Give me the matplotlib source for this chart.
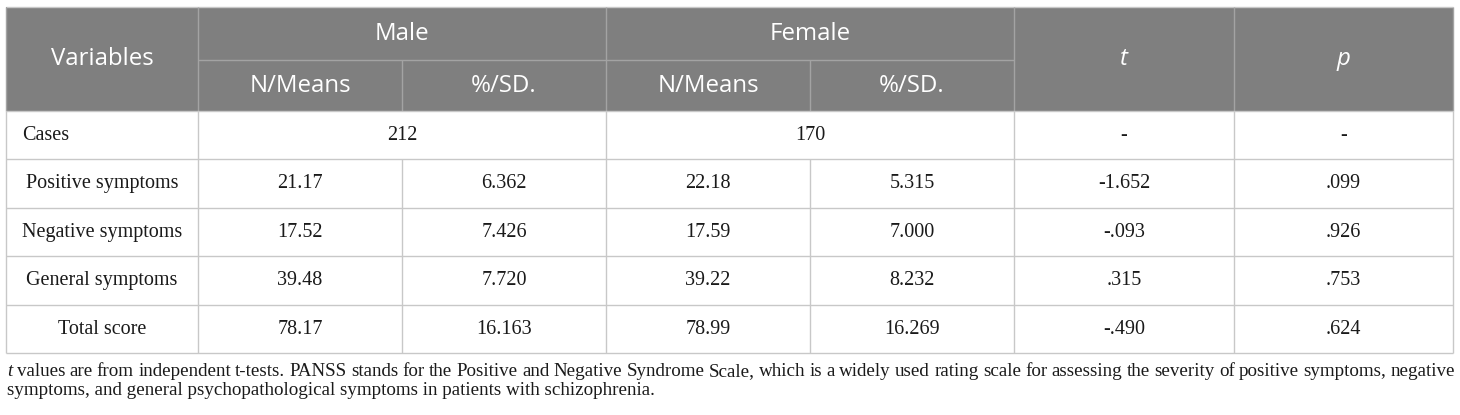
import matplotlib
matplotlib.use("Agg")
import matplotlib.pyplot as plt
from matplotlib.patches import Rectangle

# ---- data ----
variables = ["Cases", "Positive symptoms", "Negative symptoms", "General symptoms", "Total score"]
groups = ["Male", "Female"]
subheaders = ["N/Means", "%/SD."]
cases = ["212", "170"]
male_mean = ["21.17", "17.52", "39.48", "78.17"]
male_sd = ["6.362", "7.426", "7.720", "16.163"]
female_mean = ["22.18", "17.59", "39.22", "78.99"]
female_sd = ["5.315", "7.000", "8.232", "16.269"]
t_vals = ["-", "-1.652", "-.093", ".315", "-.490"]
p_vals = ["-", ".099", ".926", ".753", ".624"]
caption_line1 = ("values are from independent t-tests. PANSS stands for the Positive and Negative "
                 "Syndrome Scale, which is a widely used rating scale for assessing the severity of "
                 "positive symptoms, negative")
caption_line2 = "symptoms, and general psychopathological symptoms in patients with schizophrenia."

# ---- layout ----
W, H = 1460, 415
col = [6, 198, 402, 606, 810, 1014, 1234, 1453]
row = [7.5, 60, 111, 159, 208, 256, 305, 353]
HEAD_BG = "#7f7f7f"
HEAD_LINE = "#a3a3a3"
BODY_LINE = "#c8c8c8"
TXT = "#1a1a1a"
SANS = "Open Sans"
SERIF = "Liberation Serif"
HFS = 17.3
BFS = 14.5
CFS = 13.7

fig = plt.figure(figsize=(W / 100, H / 100), dpi=100)
ax = fig.add_axes([0, 0, 1, 1])
ax.set_xlim(0, W)
ax.set_ylim(H, 0)
ax.axis("off")

# header background
ax.add_patch(Rectangle((col[0], row[0]), col[-1] - col[0], row[2] - row[0],
                       facecolor=HEAD_BG, edgecolor="none", zorder=0))

def hline(y, x0, x1, c):
    ax.plot([x0, x1], [y, y], color=c, lw=1.0, zorder=2, solid_capstyle="butt")

def vline(x, y0, y1, c):
    ax.plot([x, x], [y0, y1], color=c, lw=1.0, zorder=2, solid_capstyle="butt")

# header lines
hline(row[0], col[0], col[-1], BODY_LINE)
hline(row[1], col[1], col[5], HEAD_LINE)
for x in [col[1], col[3], col[5], col[6]]:
    vline(x, row[0], row[2], HEAD_LINE)
for x in [col[2], col[4]]:
    vline(x, row[1], row[2], HEAD_LINE)
vline(col[0], row[0], row[2], HEAD_LINE)
vline(col[-1], row[0], row[2], HEAD_LINE)

# body lines
for y in row[2:]:
    hline(y, col[0], col[-1], BODY_LINE)
for x in [col[0], col[1], col[3], col[5], col[6], col[7]]:
    vline(x, row[2], row[-1], BODY_LINE)
for x in [col[2], col[4]]:
    vline(x, row[3], row[-1], BODY_LINE)

def cx(i, j=None):
    j = i + 1 if j is None else j
    return (col[i] + col[j]) / 2

def cy(i, j=None):
    j = i + 1 if j is None else j
    return (row[i] + row[j]) / 2

hkw = dict(color="white", fontsize=HFS, family=SANS, ha="center", va="center")
ax.text(cx(0), cy(0, 2), "Variables", **hkw)
for g, name in enumerate(groups):
    ax.text(cx(1 + 2 * g, 3 + 2 * g), cy(0), name, **hkw)
    for s, sub in enumerate(subheaders):
        ax.text(cx(1 + 2 * g + s), cy(1), sub, **hkw)
ax.text(cx(5), cy(0, 2), "t", style="italic", **hkw)
ax.text(cx(6), cy(0, 2), "p", style="italic", **hkw)

bkw = dict(color=TXT, fontsize=BFS, family=SERIF, va="center")
# cases row
ax.text(22, cy(2), variables[0], ha="left", **bkw)
ax.text(cx(1, 3), cy(2), cases[0], ha="center", **bkw)
ax.text(cx(3, 5), cy(2), cases[1], ha="center", **bkw)
ax.text(cx(5), cy(2), t_vals[0], ha="center", **bkw)
ax.text(cx(6), cy(2), p_vals[0], ha="center", **bkw)

for k in range(4):
    r = 3 + k
    vals = [male_mean[k], male_sd[k], female_mean[k], female_sd[k], t_vals[k + 1], p_vals[k + 1]]
    ax.text(cx(0), cy(r), variables[k + 1], ha="center", **bkw)
    for c, v in enumerate(vals):
        ax.text(cx(c + 1), cy(r), v, ha="center", **bkw)

# caption (justified first line)
fig.canvas.draw()
renderer = fig.canvas.get_renderer()
ckw = dict(color=TXT, fontsize=CFS, family=SERIF, va="baseline", ha="left")
y1, y2 = 376, 395
words = ["t"] + caption_line1.split(" ")
objs = []
for i, w in enumerate(words):
    t = ax.text(0, y1, w, style="italic" if i == 0 else "normal", **ckw)
    objs.append(t)
widths = [o.get_window_extent(renderer).width for o in objs]
x0, x1 = 7, 1455
gap = (x1 - x0 - sum(widths)) / (len(words) - 1)
x = x0
for o, w in zip(objs, widths):
    o.set_x(x)
    x += w + gap
ax.text(x0, y2, caption_line2, **ckw)

fig.savefig("out.png", dpi=100, facecolor="white")
